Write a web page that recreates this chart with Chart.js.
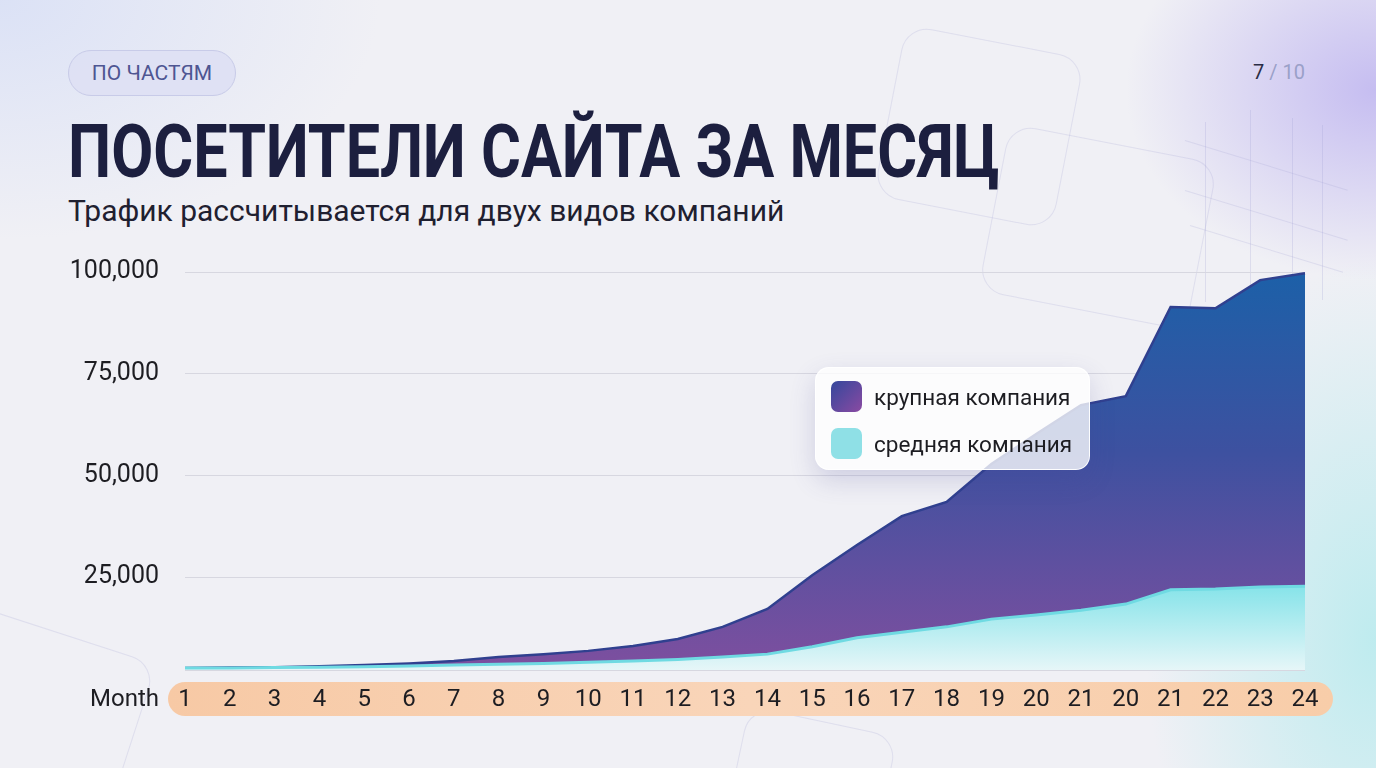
<!DOCTYPE html>
<html>
<head>
<meta charset="utf-8">
<script src="https://cdn.jsdelivr.net/npm/chart.js@4.4.1/dist/chart.umd.min.js"></script>
<style>
  html, body { margin:0; padding:0; width:1376px; height:768px; overflow:hidden; }
  body {
    position:relative;
    font-family: Roboto, "Noto Sans", sans-serif;
    background:
      radial-gradient(ellipse 250px 190px at 1376px 90px, rgba(190,180,240,0.85), rgba(190,180,240,0) 100%),
      radial-gradient(ellipse 230px 380px at 1376px 640px, rgba(185,235,238,0.9), rgba(185,235,238,0) 100%),
      radial-gradient(ellipse 380px 240px at 0px 0px, rgba(214,222,246,0.8), rgba(214,222,246,0) 100%),
      #f0f0f5;
  }
  .deco { position:absolute; border:1.5px solid rgba(160,160,210,0.22); border-radius:26px; }
  .vline { position:absolute; width:1px; background:rgba(160,160,210,0.25); }
  .dline { position:absolute; height:1px; background:rgba(160,160,210,0.22); transform-origin:left center; }
  #pill {
    position:absolute; left:68px; top:50px; width:166px; height:44px; border-radius:23px;
    background:rgba(222,224,244,0.9); border:1px solid #c8cbe8;
    color:#4e5592; font-size:21px; font-weight:400; display:flex; align-items:center; justify-content:center;
  }
  #page { position:absolute; left:1253px; top:60px; font-size:20px; color:#2a2c45; }
  #page span { color:#9aa0c8; }
  #title {
    position:absolute; left:68px; top:108px; font-size:74px; font-weight:700; color:#1c1f3f;
    white-space:nowrap; transform-origin:left top; transform:scaleX(0.825);
  }
  #subtitle {
    position:absolute; left:68px; top:193px; font-size:30px; color:#1f2030; white-space:nowrap;
  }
  #chartWrap { position:absolute; left:0; top:0; width:1376px; height:768px; }
  #legend {
    position:absolute; left:815px; top:367px; width:275px; height:103px; box-sizing:border-box;
    background:rgba(255,255,255,0.78); border:1px solid rgba(255,255,255,0.95); border-radius:14px;
    box-shadow:0 10px 26px rgba(70,70,150,0.20);
  }
  .li { position:absolute; left:15px; height:31px; display:flex; align-items:center; }
  .sw { width:31px; height:31px; border-radius:7px; margin-right:12px; }
  .lt { font-size:22.5px; color:#1d1d22; white-space:nowrap; }
</style>
</head>
<body>
<div class="deco" style="left:888px;top:40px;width:180px;height:172px;transform:rotate(11deg);"></div>
<div class="deco" style="left:992px;top:142px;width:210px;height:168px;transform:rotate(11deg);"></div>
<div class="deco" style="left:-60px;top:630px;width:190px;height:190px;transform:rotate(18deg);"></div>
<div class="deco" style="left:735px;top:720px;width:150px;height:120px;transform:rotate(12deg);"></div>
<div class="vline" style="left:1205px;top:122px;height:180px;"></div>
<div class="vline" style="left:1250px;top:110px;height:190px;"></div>
<div class="vline" style="left:1292px;top:118px;height:185px;"></div>
<div class="vline" style="left:1322px;top:125px;height:175px;"></div>
<div class="dline" style="left:1185px;top:140px;width:170px;transform:rotate(17deg);"></div>
<div class="dline" style="left:1185px;top:190px;width:170px;transform:rotate(17deg);"></div>
<div class="dline" style="left:1190px;top:225px;width:160px;transform:rotate(17deg);"></div>

<div id="pill">ПО ЧАСТЯМ</div>
<div id="page">7 <span>/ 10</span></div>
<div id="title">ПОСЕТИТЕЛИ САЙТА ЗА МЕСЯЦ</div>
<div id="subtitle">Трафик рассчитывается для двух видов компаний</div>

<div id="chartWrap"><canvas id="c" width="1376" height="768"></canvas></div>
<div id="legend"></div>

<script>
// ---- data ----
const months = ['1','2','3','4','5','6','7','8','9','10','11','12','13','14','15','16','17','18','19','20','21','20','21','22','23','24'];
const largeCompany = [2700, 2800, 2900, 3100, 3400, 3800, 4400, 5400, 6100, 6900, 8100, 9800, 12800, 17200, 25500, 32900, 40000, 43500, 52800, 60200, 67300, 69500, 91400, 91100, 98000, 99700];
const mediumCompany = [2700, 2700, 2800, 2900, 3000, 3200, 3400, 3600, 3800, 4100, 4400, 4800, 5400, 6100, 7900, 10100, 11500, 12800, 14700, 15700, 16900, 18400, 21900, 22100, 22600, 22800];
const seriesNames = ['крупная компания', 'средняя компания'];
const yTicks = [25000, 50000, 75000, 100000];
const yMin = 2200;
const yMax = 100000;
const xAxisTitle = 'Month';

function largeFill(ctx) {
  const ca = ctx.chart.chartArea;
  if (!ca) return '#4a4fa0';
  const g = ctx.chart.ctx.createLinearGradient(0, ca.top, 0, ca.bottom);
  g.addColorStop(0, '#1c60a8');
  g.addColorStop(0.45, '#3d51a0');
  g.addColorStop(1, '#7e4f9f');
  return g;
}
function mediumFill(ctx) {
  const ca = ctx.chart.chartArea;
  if (!ca) return '#8ee0e6';
  const g = ctx.chart.ctx.createLinearGradient(0, ca.bottom - 90, 0, ca.bottom);
  g.addColorStop(0, '#7fe2e8');
  g.addColorStop(1, '#e6f6f8');
  return g;
}

const pillPlugin = {
  id: 'pill',
  beforeDraw(chart) {
    const {ctx, chartArea} = chart;
    const x0 = chartArea.left - 17, x1 = chartArea.right + 28;
    const y0 = chartArea.bottom + 12, h = 34;
    const g = ctx.createLinearGradient(x0, 0, x1, 0);
    g.addColorStop(0, '#f7c9a5');
    g.addColorStop(0.5, '#f9d5b9');
    g.addColorStop(1, '#f8cda9');
    ctx.save();
    ctx.fillStyle = g;
    ctx.beginPath();
    ctx.roundRect(x0, y0, x1 - x0, h, h / 2);
    ctx.fill();
    // bottom axis line
    ctx.strokeStyle = '#d7d7e0';
    ctx.lineWidth = 1;
    ctx.beginPath();
    ctx.moveTo(chartArea.left, chartArea.bottom + 0.5);
    ctx.lineTo(chartArea.right, chartArea.bottom + 0.5);
    ctx.stroke();
    ctx.restore();
  },
  afterDraw(chart) {
    const {ctx, chartArea} = chart;
    ctx.save();
    ctx.font = '24px Roboto';
    ctx.fillStyle = '#1d1d22';
    ctx.textAlign = 'right';
    ctx.textBaseline = 'middle';
    ctx.fillText(xAxisTitle, chartArea.left - 26, chartArea.bottom + 30);
    ctx.restore();
  }
};

const chart = new Chart(document.getElementById('c'), {
  type: 'line',
  data: {
    labels: months,
    datasets: [
      {
        label: seriesNames[0], data: largeCompany, order: 2,
        fill: 'origin', backgroundColor: largeFill, borderColor: '#30408f', borderWidth: 2.5,
        pointRadius: 0, tension: 0
      },
      {
        label: seriesNames[1], data: mediumCompany, order: 1,
        fill: 'origin', backgroundColor: mediumFill, borderColor: '#6fdae2', borderWidth: 3,
        pointRadius: 0, tension: 0
      }
    ]
  },
  options: {
    responsive: false, animation: false,
    layout: { padding: { left: 0, top: 272, right: 71, bottom: 48 } },
    plugins: { legend: { display: false }, tooltip: { enabled: false } },
    scales: {
      x: {
        grid: { display: false, drawTicks: false },
        border: { display: false },
        ticks: { color: '#1d1d22', font: { family: 'Roboto', size: 24 }, padding: 16, maxRotation: 0, autoSkip: false },
        afterFit(s) { s.height = 50; }
      },
      y: {
        min: yMin, max: yMax,
        afterBuildTicks(s) { s.ticks = yTicks.map(v => ({ value: v })); },
        grid: { color: '#d7d7e0', lineWidth: 1, drawTicks: false },
        border: { display: false },
        ticks: {
          color: '#1d1d22', font: { family: 'Roboto', size: 25 }, padding: 26,
          callback: v => v.toLocaleString('en-US')
        },
        afterFit(s) { s.width = 185; }
      }
    }
  },
  plugins: [pillPlugin]
});

// HTML legend from datasets
const legendEl = document.getElementById('legend');
const swatches = ['linear-gradient(135deg,#34479c,#8a4aa2)', '#8fe0e6'];
chart.data.datasets.forEach((ds, i) => {
  const row = document.createElement('div');
  row.className = 'li';
  row.style.top = (13 + i * 47) + 'px';
  row.innerHTML = '<div class="sw" style="background:' + swatches[i] + '"></div><div class="lt"></div>';
  row.querySelector('.lt').textContent = ds.label;
  legendEl.appendChild(row);
});
</script>
</body>
</html>
